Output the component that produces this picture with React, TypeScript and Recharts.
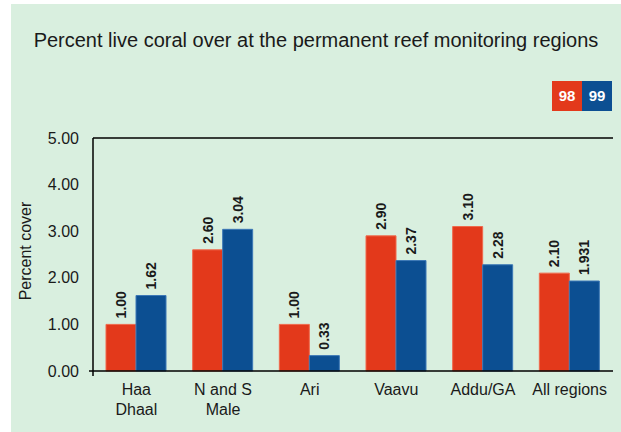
import React from 'react';
import {
  BarChart,
  Bar,
  XAxis,
  YAxis,
  Legend,
  LabelList,
  ReferenceLine,
} from 'recharts';

const categories = ['Haa Dhaal', 'N and S Male', 'Ari', 'Vaavu', 'Addu/GA', 'All regions'];
const tickLabels = [['Haa', 'Dhaal'], ['N and S', 'Male'], ['Ari'], ['Vaavu'], ['Addu/GA'], ['All regions']];
const values98 = [1.0, 2.6, 1.0, 2.9, 3.1, 2.1];
const values99 = [1.62, 3.04, 0.33, 2.37, 2.28, 1.931];
const labels98 = ['1.00', '2.60', '1.00', '2.90', '3.10', '2.10'];
const labels99 = ['1.62', '3.04', '0.33', '2.37', '2.28', '1.931'];
const yTicks = [0, 1, 2, 3, 4, 5];

const data = categories.map((name, i) => ({
  name,
  y98: values98[i],
  y99: values99[i],
  l98: labels98[i],
  l99: labels99[i],
}));

const FONT = '"Liberation Sans", Arial, sans-serif';
const RED = '#e3391b';
const BLUE = '#0c4f92';

// y tick text, plus the little cross at the origin
const YTick = (props: any) => {
  const { x, y, payload } = props;
  return (
    <g>
      <text x={x} y={y} dy="0.35em" textAnchor="end" fontSize={16} fill="#1a1a1a" fontFamily={FONT}>
        {Number(payload.value).toFixed(2)}
      </text>
      {payload.value === 0 && (
        <g stroke="#000" strokeWidth={1.5}>
          <line x1={x + 10} y1={y} x2={x + 14} y2={y} />
          <line x1={x + 14} y1={y} x2={x + 14} y2={y + 5} />
        </g>
      )}
    </g>
  );
};

const XTick = (props: any) => {
  const { x, y, index } = props;
  const lines = tickLabels[index] || [];
  return (
    <text x={x} y={y} textAnchor="middle" fontSize={16} fill="#1a1a1a" fontFamily={FONT}>
      {lines.map((l, i) => (
        <tspan key={i} x={x} y={y + 24 + i * 20}>
          {l}
        </tspan>
      ))}
    </text>
  );
};

const makeValueLabel = (key: 'l98' | 'l99') => (props: any) => {
  const { x, y, width, index } = props;
  const cx = x + width / 2;
  const cy = y - 6;
  return (
    <text
      x={cx}
      y={cy}
      transform={`rotate(-90 ${cx} ${cy})`}
      textAnchor="start"
      dy="0.35em"
      fontSize={14}
      fontWeight={600}
      fill="#1a1a1a"
      fontFamily={FONT}
    >
      {data[index][key]}
    </text>
  );
};

const LegendBoxes = (props: any) => {
  const { payload } = props;
  return (
    <div style={{ display: 'flex' }}>
      {(payload || []).map((p: any) => (
        <div
          key={p.value}
          style={{
            width: 30,
            height: 30,
            lineHeight: '30px',
            background: p.color,
            color: '#fff',
            fontFamily: FONT,
            fontWeight: 700,
            fontSize: 15,
            textAlign: 'center',
          }}
        >
          {p.value}
        </div>
      ))}
    </div>
  );
};

export default function App() {
  return (
    <div style={{ position: 'absolute', left: 0, top: 0, width: 621, height: 432, background: '#fff' }}>
      <div style={{ position: 'absolute', left: 11, top: 4, width: 610, height: 428, background: '#d9efdf' }} />
      <div
        style={{
          position: 'absolute',
          left: 11,
          top: 28,
          width: 610,
          textAlign: 'center',
          fontFamily: FONT,
          fontSize: 20,
          color: '#1a1a1a',
          lineHeight: '24px',
        }}
      >
        Percent live coral over at the permanent reef monitoring regions
      </div>
      <div style={{ position: 'absolute', left: 0, top: 0 }}>
        <BarChart
          width={621}
          height={432}
          data={data}
          margin={{ top: 108, right: 8, bottom: 0, left: 0 }}
          barSize={30}
          barGap={0}
        >
          <ReferenceLine y={5} stroke="#000" strokeWidth={1.5} />
          <XAxis
            dataKey="name"
            height={61}
            axisLine={{ stroke: '#000', strokeWidth: 1.5 }}
            tickLine={false}
            tickSize={0}
            tickMargin={0}
            interval={0}
            tick={<XTick />}
          />
          <YAxis
            width={93}
            domain={[0, 5]}
            ticks={yTicks}
            axisLine={{ stroke: '#000', strokeWidth: 1.5 }}
            tickLine={false}
            tickSize={4}
            tickMargin={10}
            tick={<YTick />}
            label={{
              content: () => (
                <text
                  x={25}
                  y={251}
                  transform="rotate(-90 25 251)"
                  textAnchor="middle"
                  dy="0.35em"
                  fontSize={16}
                  fill="#1a1a1a"
                  fontFamily={FONT}
                >
                  Percent cover
                </text>
              ),
            }}
          />
          <Legend
            content={<LegendBoxes />}
            layout="horizontal"
            verticalAlign="top"
            align="right"
            wrapperStyle={{ position: 'absolute', top: 81, left: 552, width: 62, height: 30 }}
          />
          <Bar dataKey="y98" name="98" fill={RED} stroke="#f0694c" strokeWidth={1} isAnimationActive={false}>
            <LabelList dataKey="l98" content={makeValueLabel('l98')} />
          </Bar>
          <Bar dataKey="y99" name="99" fill={BLUE} stroke="#3d78b6" strokeWidth={1} isAnimationActive={false}>
            <LabelList dataKey="l99" content={makeValueLabel('l99')} />
          </Bar>
        </BarChart>
      </div>
    </div>
  );
}
